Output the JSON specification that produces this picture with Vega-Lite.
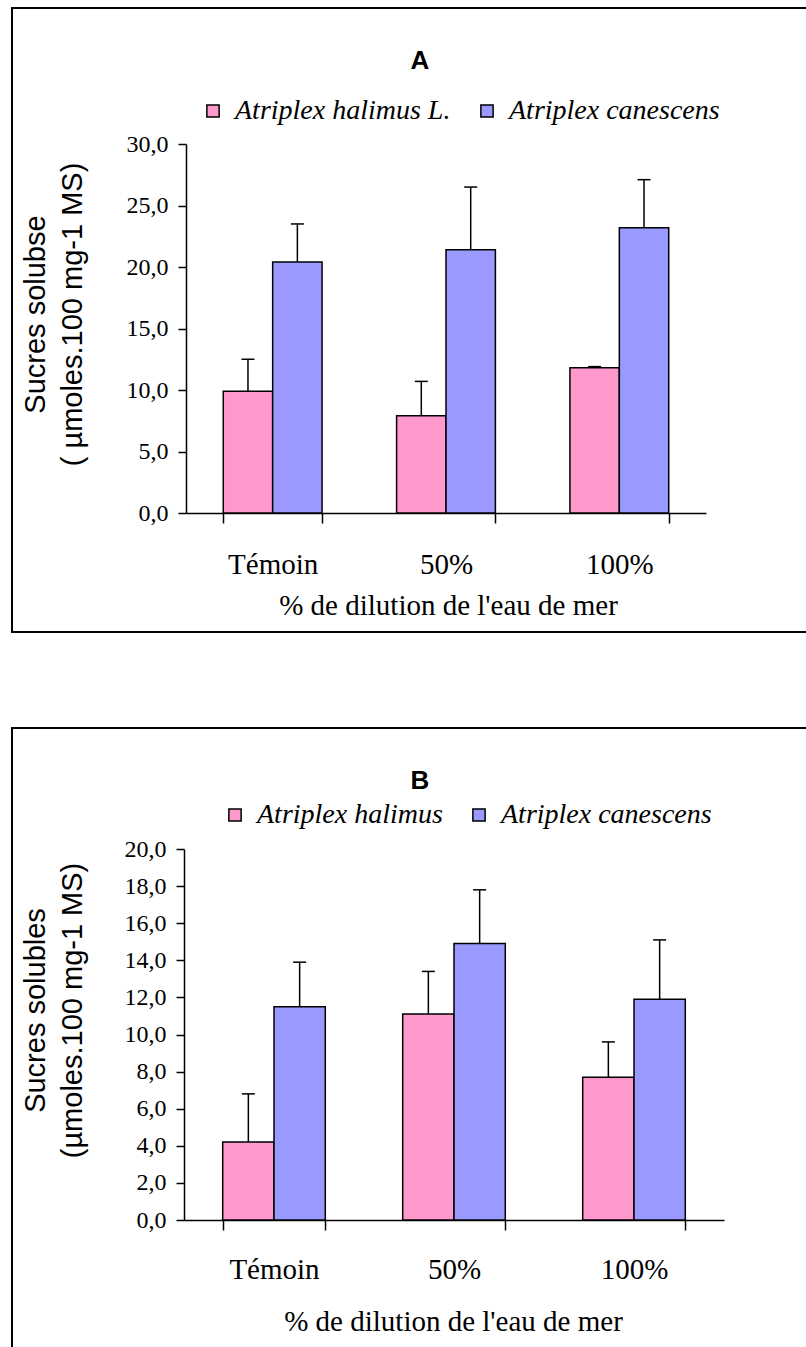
{
  "$schema": "https://vega.github.io/schema/vega-lite/v6.json",
  "background": "white",
  "padding": {"left": 11, "top": 7, "right": 0, "bottom": 0},
  "spacing": 94,
  "resolve": {"scale": {"color": "independent", "xOffset": "independent", "x": "independent", "y": "independent"}, "legend": {"color": "independent"}},
  "config": {
    "view": {"stroke": "black", "strokeWidth": 2},
    "axis": {"domainColor": "black", "domainWidth": 1.5, "tickColor": "black", "tickWidth": 1.5, "labelColor": "black", "titleColor": "black", "grid": false, "labelFont": "Liberation Serif", "titleFontWeight": "normal"},
    "title": {"font": "Liberation Sans", "fontWeight": "bold", "fontSize": 26, "color": "black"},
    "style": {"group-title": {"font": "Liberation Sans", "fontWeight": "bold", "fontSize": 26, "fill": "black"}},
    "legend": {"labelFont": "Liberation Serif", "labelFontStyle": "italic", "labelFontSize": 28, "labelColor": "black", "labelLimit": 400, "symbolType": "square", "symbolSize": 150, "symbolStrokeColor": "black", "symbolStrokeWidth": 1.5, "symbolOpacity": 1, "labelOffset": 8, "columnPadding": 22, "direction": "horizontal", "orient": "none", "title": null}
  },
  "vconcat": [
    {
      "width": 796,
      "height": 624,
      "title": {"text": "A", "offset": -66, "dx": 10, "font": "Liberation Sans", "fontWeight": "bold", "fontSize": 26, "color": "black"},
      "data": {"values": [
        {"cond": "Témoin", "species": "Atriplex halimus L.", "value": 9.9, "upper": 12.5},
        {"cond": "Témoin", "species": "Atriplex canescens", "value": 20.4, "upper": 23.5},
        {"cond": "50%", "species": "Atriplex halimus L.", "value": 7.9, "upper": 10.7},
        {"cond": "50%", "species": "Atriplex canescens", "value": 21.4, "upper": 26.5},
        {"cond": "100%", "species": "Atriplex halimus L.", "value": 11.8, "upper": 11.9},
        {"cond": "100%", "species": "Atriplex canescens", "value": 23.2, "upper": 27.1}
      ]},
      "encoding": {
        "x": {"field": "cond", "type": "nominal", "sort": ["Témoin", "50%", "100%"],
              "scale": {"range": [174, 694], "paddingInner": 0.43, "paddingOuter": 0.215},
              "axis": {"orient": "bottom", "offset": -119, "tickBand": "extent", "tickSize": 10, "labelAngle": 0, "labelFontSize": 29, "labelPadding": 27,
                       "title": "% de dilution de l'eau de mer", "titleFont": "Liberation Serif", "titleFontSize": 29, "titleBaseline": "alphabetic", "titleX": 436, "titleY": 101, "titleAlign": "center"}},
        "xOffset": {"field": "species", "type": "nominal", "sort": ["Atriplex halimus L.", "Atriplex canescens"], "scale": {"domain": ["Atriplex halimus L.", "Atriplex canescens"], "paddingInner": 0, "paddingOuter": 0}}
      },
      "layer": [
        {
          "mark": {"type": "bar", "stroke": "black", "strokeWidth": 1.5, "opacity": 1},
          "encoding": {
            "y": {"field": "value", "type": "quantitative",
                  "scale": {"domain": [0, 30], "range": [505, 136], "nice": false, "zero": true},
                  "axis": {"orient": "left", "offset": -174, "values": [0, 5, 10, 15, 20, 25, 30], "tickSize": 8, "labelFontSize": 24, "labelPadding": 10,
                           "labelExpr": "replace(format(datum.value, '.1f'), '.', ',')",
                           "title": ["Sucres solubse", "( µmoles.100 mg-1 MS)"], "titleFont": "Liberation Sans", "titleFontSize": 29, "titleLineHeight": 37,
                           "titleAngle": 270, "titleAlign": "center", "titleBaseline": "alphabetic", "titleX": -142, "titleY": 306}},
            "color": {"field": "species", "type": "nominal",
                      "scale": {"domain": ["Atriplex halimus L.", "Atriplex canescens"], "range": ["#FF99CC", "#9999FF"]},
                      "legend": {"legendX": 187, "legendY": 89}}
          }
        },
        {
          "mark": {"type": "rule", "color": "black", "strokeWidth": 1.5},
          "encoding": {
            "y": {"field": "value", "type": "quantitative"},
            "y2": {"field": "upper"}
          }
        },
        {
          "mark": {"type": "tick", "color": "black", "thickness": 1.5, "size": 13, "opacity": 1},
          "encoding": {
            "y": {"field": "upper", "type": "quantitative"}
          }
        }
      ]
    },
    {
      "width": 796,
      "height": 640,
      "title": {"text": "B", "offset": -66, "dx": 10, "font": "Liberation Sans", "fontWeight": "bold", "fontSize": 26, "color": "black"},
      "data": {"values": [
        {"cond": "Témoin", "species": "Atriplex halimus", "value": 4.2, "upper": 6.8},
        {"cond": "Témoin", "species": "Atriplex canescens", "value": 11.5, "upper": 13.9},
        {"cond": "50%", "species": "Atriplex halimus", "value": 11.1, "upper": 13.4},
        {"cond": "50%", "species": "Atriplex canescens", "value": 14.9, "upper": 17.8},
        {"cond": "100%", "species": "Atriplex halimus", "value": 7.7, "upper": 9.6},
        {"cond": "100%", "species": "Atriplex canescens", "value": 11.9, "upper": 15.1}
      ]},
      "encoding": {
        "x": {"field": "cond", "type": "nominal", "sort": ["Témoin", "50%", "100%"],
              "scale": {"range": [172, 712], "paddingInner": 0.43, "paddingOuter": 0.215},
              "axis": {"orient": "bottom", "offset": -148, "tickBand": "extent", "tickSize": 10, "labelAngle": 0, "labelFontSize": 29, "labelPadding": 25,
                       "title": "% de dilution de l'eau de mer", "titleFont": "Liberation Serif", "titleFontSize": 29, "titleBaseline": "alphabetic", "titleX": 441, "titleY": 110, "titleAlign": "center"}},
        "xOffset": {"field": "species", "type": "nominal", "sort": ["Atriplex halimus", "Atriplex canescens"], "scale": {"domain": ["Atriplex halimus", "Atriplex canescens"], "paddingInner": 0, "paddingOuter": 0}}
      },
      "layer": [
        {
          "mark": {"type": "bar", "stroke": "black", "strokeWidth": 1.5, "opacity": 1},
          "encoding": {
            "y": {"field": "value", "type": "quantitative",
                  "scale": {"domain": [0, 20], "range": [492, 121], "nice": false, "zero": true},
                  "axis": {"orient": "left", "offset": -172, "values": [0, 2, 4, 6, 8, 10, 12, 14, 16, 18, 20], "tickSize": 8, "labelFontSize": 24, "labelPadding": 10,
                           "labelExpr": "replace(format(datum.value, '.1f'), '.', ',')",
                           "title": ["Sucres solubles", "(µmoles.100 mg-1 MS)"], "titleFont": "Liberation Sans", "titleFontSize": 29, "titleLineHeight": 37,
                           "titleAngle": 270, "titleAlign": "center", "titleBaseline": "alphabetic", "titleX": -140, "titleY": 282}},
            "color": {"field": "species", "type": "nominal",
                      "scale": {"domain": ["Atriplex halimus", "Atriplex canescens"], "range": ["#FF99CC", "#9999FF"]},
                      "legend": {"legendX": 209, "legendY": 73}}
          }
        },
        {
          "mark": {"type": "rule", "color": "black", "strokeWidth": 1.5},
          "encoding": {
            "y": {"field": "value", "type": "quantitative"},
            "y2": {"field": "upper"}
          }
        },
        {
          "mark": {"type": "tick", "color": "black", "thickness": 1.5, "size": 13, "opacity": 1},
          "encoding": {
            "y": {"field": "upper", "type": "quantitative"}
          }
        }
      ]
    }
  ]
}
